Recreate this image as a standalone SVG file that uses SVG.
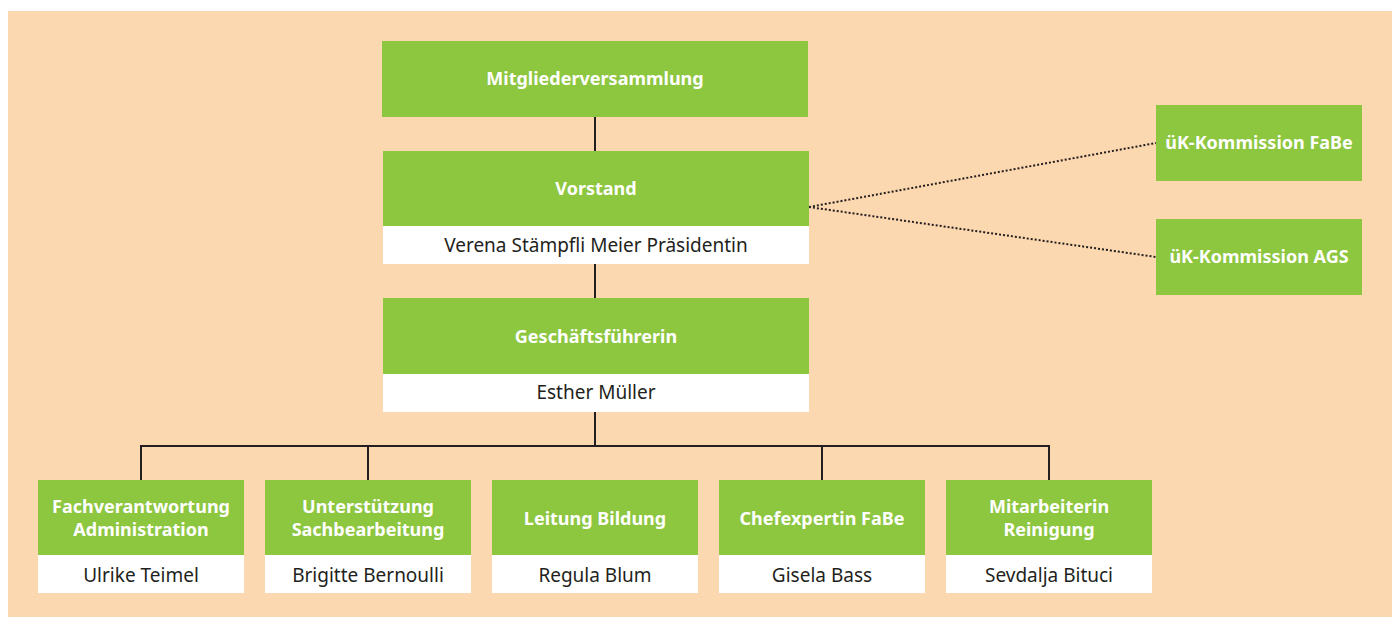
<svg xmlns="http://www.w3.org/2000/svg" width="1396" height="617" viewBox="0 0 1396 617">
<style>
.g{fill:#8dc63f}
.w{fill:#ffffff}
.t{font-family:"Noto Sans","Open Sans",sans-serif;font-size:18px;font-weight:bold;fill:#ffffff;text-anchor:middle}
.n{font-family:"Noto Sans","Open Sans",sans-serif;font-size:19px;fill:#231f20;text-anchor:middle}
.c{stroke:#231f20;stroke-width:2;fill:none}
.d{stroke:#231f20;stroke-width:2;fill:none;stroke-dasharray:2 2}
</style>
<rect x="0" y="0" width="1396" height="617" fill="#ffffff"/>
<rect x="8" y="11" width="1384" height="606" fill="#fbd8b0"/>
<g id="connectors">
<path class="c" d="M595 117V151M595 264V298M595 412V446M141 480V446H1049V480M368 446V480M822 446V480"/>
<path class="d" d="M809 207L1156 143M809 207L1156 257"/>
</g>
<g id="mitglieder">
<rect class="g" x="382" y="41" width="426" height="76"/>
<text class="t" x="595" y="85">Mitgliederversammlung</text>
</g>
<g id="vorstand">
<rect class="g" x="383" y="151" width="426" height="75"/>
<rect class="w" x="383" y="226" width="426" height="38"/>
<text class="t" x="596" y="195">Vorstand</text>
<text class="n" x="596" y="252">Verena Stämpfli Meier Präsidentin</text>
</g>
<g id="gf">
<rect class="g" x="383" y="298" width="426" height="76"/>
<rect class="w" x="383" y="374" width="426" height="38"/>
<text class="t" x="596" y="343">Geschäftsführerin</text>
<text class="n" x="596" y="399">Esther Müller</text>
</g>
<g id="uk-fabe">
<rect class="g" x="1156" y="105" width="206" height="76"/>
<text class="t" x="1259" y="149">üK-Kommission FaBe</text>
</g>
<g id="uk-ags">
<rect class="g" x="1156" y="219" width="206" height="76"/>
<text class="t" x="1259" y="263">üK-Kommission AGS</text>
</g>
<g id="fachverantwortung">
<rect class="g" x="38" y="480" width="206" height="75"/>
<rect class="w" x="38" y="555" width="206" height="38"/>
<text class="t" x="141" y="513">Fachverantwortung</text>
<text class="t" x="141" y="536">Administration</text>
<text class="n" x="141" y="582">Ulrike Teimel</text>
</g>
<g id="unterstuetzung">
<rect class="g" x="265" y="480" width="206" height="75"/>
<rect class="w" x="265" y="555" width="206" height="38"/>
<text class="t" x="368" y="513">Unterstützung</text>
<text class="t" x="368" y="536">Sachbearbeitung</text>
<text class="n" x="368" y="582">Brigitte Bernoulli</text>
</g>
<g id="leitung">
<rect class="g" x="492" y="480" width="206" height="75"/>
<rect class="w" x="492" y="555" width="206" height="38"/>
<text class="t" x="595" y="525">Leitung Bildung</text>
<text class="n" x="595" y="582">Regula Blum</text>
</g>
<g id="chefexpertin">
<rect class="g" x="719" y="480" width="206" height="75"/>
<rect class="w" x="719" y="555" width="206" height="38"/>
<text class="t" x="822" y="525">Chefexpertin FaBe</text>
<text class="n" x="822" y="582">Gisela Bass</text>
</g>
<g id="mitarbeiterin">
<rect class="g" x="946" y="480" width="206" height="75"/>
<rect class="w" x="946" y="555" width="206" height="38"/>
<text class="t" x="1049" y="513">Mitarbeiterin</text>
<text class="t" x="1049" y="536">Reinigung</text>
<text class="n" x="1049" y="582">Sevdalja Bituci</text>
</g>
</svg>
